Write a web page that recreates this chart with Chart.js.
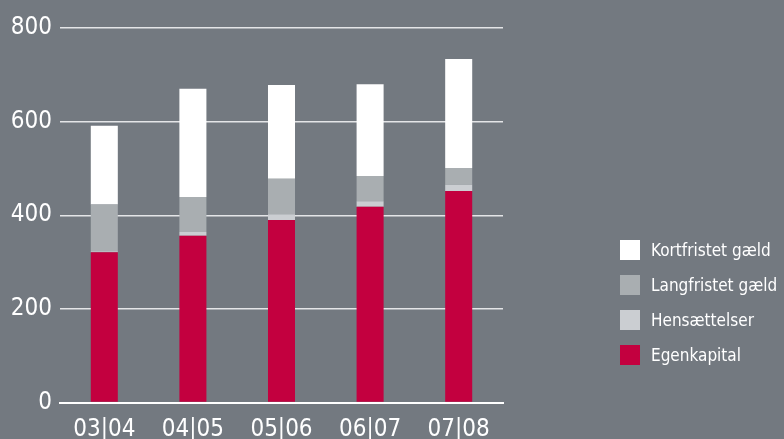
<!DOCTYPE html>
<html>
<head>
<meta charset="utf-8">
<script src="https://cdn.jsdelivr.net/npm/chart.js@4/dist/chart.umd.min.js"></script>
<style>
  html, body { margin: 0; padding: 0; background: #737980; }
  #wrap { position: relative; width: 784px; height: 439px; }
  canvas { position: absolute; left: 0; top: 0; }
  #legend { position: absolute; left: 620px; top: 240px; font-family: "DejaVu Sans Condensed", "DejaVu Sans", sans-serif; font-stretch: condensed; font-size: 17px; color: #fff; }
  .item { display: flex; align-items: center; height: 20px; margin-bottom: 15px; white-space: nowrap; }
  .box { width: 20px; height: 20px; margin-right: 11px; flex: none; }
</style>
</head>
<body>
<div id="wrap">
  <canvas id="c" width="784" height="439"></canvas>
  <div id="legend"></div>
</div>
<script>
const categories = ["03|04", "04|05", "05|06", "06|07", "07|08"];
const egenkapital = [321, 356, 390, 418, 452];
const hensaettelser = [2, 8, 12, 12, 13];
const langfristet = [100, 75, 76, 54, 36];
const kortfristet = [168, 231, 200, 196, 233];
const yTicks = [0, 200, 400, 600, 800];

const seriesNames = ["Egenkapital", "Hensættelser", "Langfristet gæld", "Kortfristet gæld"];
const seriesColors = ["#c3003f", "#cbced2", "#a9aeb1", "#ffffff"];
const seriesData = [egenkapital, hensaettelser, langfristet, kortfristet];

const font = "'DejaVu Sans Condensed', 'DejaVu Sans', sans-serif";

const chart = new Chart(document.getElementById('c'), {
  type: 'bar',
  data: {
    labels: categories,
    datasets: seriesData.map((d, i) => ({
      label: seriesNames[i],
      data: d,
      backgroundColor: seriesColors[i],
      borderWidth: 0,
      barPercentage: 0.305,
      categoryPercentage: 1.0
    }))
  },
  options: {
    responsive: false,
    animation: false,
    devicePixelRatio: 1,
    layout: { padding: { top: 28, right: 281, left: 0, bottom: 0 } },
    plugins: { legend: { display: false }, tooltip: { enabled: false } },
    scales: {
      x: {
        stacked: true,
        z: 1,
        grid: { display: false },
        border: { display: true, color: '#ffffff', width: 2 },
        ticks: { color: '#ffffff', font: { family: font, size: 24 }, padding: 5 },
        afterFit: s => { s.height = 36.5; }
      },
      y: {
        stacked: true,
        min: 0, max: 800,
        afterBuildTicks: s => { s.ticks = yTicks.map(v => ({ value: v })); },
        grid: { color: '#e4e5e7', lineWidth: 1.5, drawTicks: false },
        border: { display: false },
        ticks: { color: '#ffffff', font: { family: font, size: 24 }, padding: 8 },
        afterFit: s => { s.width = 60; }
      }
    }
  }
});

const legend = document.getElementById('legend');
[3, 2, 1, 0].forEach(i => {
  const it = document.createElement('div');
  it.className = 'item';
  const b = document.createElement('div');
  b.className = 'box';
  b.style.background = seriesColors[i];
  const t = document.createElement('span');
  t.textContent = seriesNames[i];
  it.appendChild(b); it.appendChild(t);
  legend.appendChild(it);
});
</script>
</body>
</html>
